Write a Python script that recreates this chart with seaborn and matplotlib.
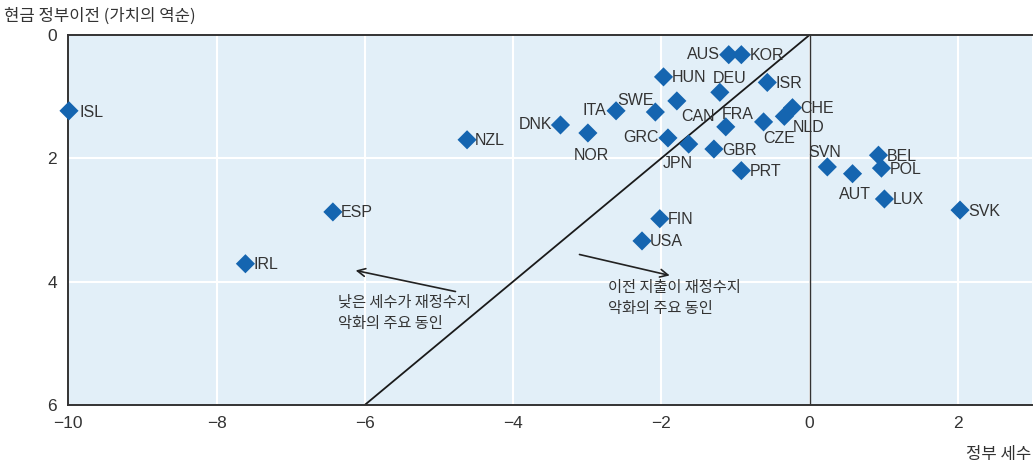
import matplotlib
matplotlib.use("Agg")
import matplotlib.pyplot as plt
import pandas as pd
import seaborn as sns

# 국가별 값 (x: 정부 세수, y: 현금 정부이전 - 역순)
countries = ["ISL", "NZL", "DNK", "NOR", "ITA", "SWE", "HUN", "CAN", "AUS", "KOR",
             "DEU", "ISR", "FRA", "CZE", "CHE", "NLD", "GRC", "JPN", "GBR", "PRT",
             "FIN", "USA", "ESP", "IRL", "SVN", "AUT", "BEL", "POL", "LUX", "SVK"]
tax = [-9.99, -4.62, -3.36, -2.99, -2.61, -2.08, -1.97, -1.79, -1.09, -0.92,
       -1.21, -0.57, -1.13, -0.62, -0.23, -0.34, -1.91, -1.63, -1.29, -0.92,
       -2.02, -2.26, -6.43, -7.61, 0.24, 0.58, 0.93, 0.97, 1.01, 2.03]
transfer = [1.23, 1.70, 1.46, 1.59, 1.23, 1.25, 0.68, 1.07, 0.32, 0.32,
            0.93, 0.77, 1.49, 1.41, 1.18, 1.32, 1.67, 1.77, 1.85, 2.20,
            2.98, 3.34, 2.87, 3.71, 2.14, 2.25, 1.95, 2.16, 2.66, 2.84]

# 라벨 위치 (픽셀 오프셋, 정렬)
label_pos = {
    "DNK": (-8, 0, "right"), "ITA": (-10, 0, "right"), "AUS": (-9, 0, "right"),
    "GRC": (-9, 0, "right"),
    "NOR": (3, -22, "center"), "SWE": (-20, 12, "center"), "CAN": (21, -16, "center"),
    "DEU": (10, 14, "center"), "FRA": (12, 12, "center"), "CZE": (16, -17, "center"),
    "NLD": (24, -11, "center"), "JPN": (-11, -19, "center"), "SVN": (-3, 14, "center"),
    "AUT": (2, -21, "center"), "ISL": (11, -2, "left"),
}

df = pd.DataFrame({"country": countries, "tax": tax, "transfer": transfer})

sns.set_style("white")
plt.rcParams["font.family"] = ["Liberation Sans", "Noto Sans CJK KR", "DejaVu Sans"]
kr = ["Noto Sans CJK KR", "DejaVu Sans"]

fig = plt.figure(figsize=(10.34, 4.66), dpi=100)
ax = fig.add_axes([0.066, 0.131, 0.932, 0.794])
ax.set_facecolor("#E2EFF8")

ax.axline((0, 0), slope=-1, color="#1a1a1a", lw=1.3, zorder=2)
ax.axvline(0, color="#333333", lw=1.0, zorder=2)

sns.scatterplot(data=df, x="tax", y="transfer", marker="D", s=95,
                color="#1565B0", edgecolor="none", ax=ax, zorder=4, clip_on=False)

for c, xv, yv in zip(countries, tax, transfer):
    dx, dy, ha = label_pos.get(c, (8, -1, "left"))
    ax.annotate(c, (xv, yv), xytext=(dx, dy), textcoords="offset pixels",
                ha=ha, va="center", fontsize=11.5, color="#333333", zorder=5)

# 화살표와 설명
ax.annotate("", xy=(-6.16, 3.81), xytext=(-4.74, 4.17),
            arrowprops=dict(arrowstyle="->", color="#222222", lw=1.2,
                            mutation_scale=14))
ax.annotate("", xy=(-1.85, 3.91), xytext=(-3.14, 3.55),
            arrowprops=dict(arrowstyle="->", color="#222222", lw=1.2,
                            mutation_scale=14))
ax.text(-6.36, 4.20, "낮은 세수가 재정수지\n악화의 주요 동인", family=kr,
        fontsize=11, color="#333333", va="top", ha="left", linespacing=1.3)
ax.text(-2.72, 3.96, "이전 지출이 재정수지\n악화의 주요 동인", family=kr,
        fontsize=11, color="#333333", va="top", ha="left", linespacing=1.3)

ax.set_xlim(-10, 3)
ax.set_ylim(6, 0)
ax.set_xticks([-10, -8, -6, -4, -2, 0, 2])
ax.set_yticks([0, 2, 4, 6])
ax.set_xticklabels(["\u221210", "\u22128", "\u22126", "\u22124", "\u22122", "0", "2"])
ax.grid(True, color="white", lw=1.5, zorder=0)
ax.set_axisbelow(True)
ax.tick_params(direction="in", length=4, width=0.8, color="#444444",
               labelsize=12.5, labelcolor="#333333", pad=8)
for side in ["left", "bottom", "top"]:
    ax.spines[side].set_color("#333333")
    ax.spines[side].set_linewidth(1.4)
ax.spines["right"].set_visible(False)
ax.set_xlabel("")
ax.set_ylabel("")

fig.text(0.004, 0.965, "현금 정부이전 (가치의 역순)", family=kr, fontsize=12,
         color="#333333", va="center", ha="left")
fig.text(0.997, 0.025, "정부 세수", family=kr, fontsize=12,
         color="#333333", va="center", ha="right")

fig.savefig("out.png", dpi=100)
